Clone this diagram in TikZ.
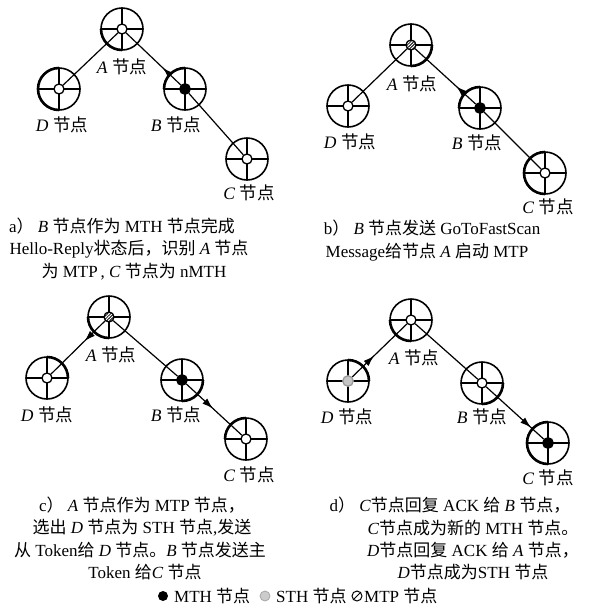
\documentclass[tikz,border=0pt]{standalone}
\usepackage{fontspec}
\setmainfont{Liberation Serif}
\newfontfamily\cjk{Noto Sans CJK SC}
\usetikzlibrary{arrows.meta,decorations.markings,patterns.meta,calc}
\newcommand\zh[1]{{\cjk #1}}
\tikzset{
  rimln/.style={line width=1.6pt},
  thinln/.style={line width=1.1pt},
  boldln/.style={line width=2.6pt},
  hub/.style={circle,draw,line width=1.3pt,fill=white,minimum size=10pt,inner sep=0pt},
  hubwhite/.style={},
  hubblack/.style={fill=black,minimum size=10.5pt},
  hubgray/.style={fill=gray!45,draw=gray!80,minimum size=10.5pt},
  hubhatch/.style={pattern={Lines[angle=45,distance=2.2pt,line width=0.8pt]}},
  edge/.style={line width=1.2pt},
  arrowmid/.style={postaction={decorate},decoration={markings,mark=at position #1 with {\arrow{Latex[length=11pt,width=7pt]}}}},
  lbl/.style={inner sep=0pt,font=\fontsize{17.5}{20}\selectfont},
  captxt/.style={inner sep=0pt,font=\fontsize{17}{20}\selectfont},
}
% #1 name, #2 centre, #3 hub style, #4 bold spokes, #5 bold arcs (start angle)
\newcommand\wheel[5]{%
  \draw[rimln] (#2) circle[radius=21];
  \foreach \a in {0,90,180,270} {\draw[thinln] ($(#2)+(\a:4.5)$) -- ($(#2)+(\a:21)$);}
  \foreach \a in {#4} {\draw[boldln] ($(#2)+(\a:4.5)$) -- ($(#2)+(\a:21)$);}
  \foreach \s in {#5} {\draw[boldln] ($(#2)+(\s:21)$) arc[start angle=\s,delta angle=90,radius=21];}
  \node[hub,#3] (#1) at (#2) {};
}
\begin{document}
\begin{tikzpicture}[x=1pt,y=-1pt]
\useasboundingbox (0,0) rectangle (597,611);
% ---------- panel a
\wheel{aA}{122,29}{hubwhite}{}{90}
\wheel{aD}{59,89}{hubwhite}{180,270}{90,180}
\wheel{aB}{185,89}{hubblack}{180}{180}
\wheel{aC}{247,159}{hubwhite}{180}{}
\draw[edge] (aA) -- (aD);
\draw[edge,arrowmid=0.33] (aB) -- (aA);
\draw[edge] (aB) -- (aC);
\node[lbl] (aAl) at (122,67) {\textit{A} \zh{节点}};
\node[lbl] (aDl) at (62,125) {\textit{D} \zh{节点}};
\node[lbl] (aBl) at (176,125) {\textit{B} \zh{节点}};
\node[lbl] (aCl) at (249,193) {\textit{C} \zh{节点}};
% ---------- panel b
\wheel{bA}{411,45}{hubhatch}{}{0}
\wheel{bD}{348,106}{hubwhite}{}{}
\wheel{bB}{480,108}{hubblack}{180}{180}
\wheel{bC}{545,173}{hubwhite}{180}{90,180}
\draw[edge] (bA) -- (bD);
\draw[edge,arrowmid=0.32] (bB) -- (bA);
\draw[edge] (bB) -- (bC);
\node[lbl] (bAl) at (412,84) {\textit{A} \zh{节点}};
\node[lbl] (bDl) at (350,142) {\textit{D} \zh{节点}};
\node[lbl] (bBl) at (477,143) {\textit{B} \zh{节点}};
\node[lbl] (bCl) at (548,207) {\textit{C} \zh{节点}};
% ---------- panel c
\wheel{cA}{109,317}{hubhatch}{180}{90}
\wheel{cD}{47,378}{hubwhite}{270,0}{270}
\wheel{cB}{182,380}{hubblack}{180}{0}
\wheel{cC}{246,439}{hubwhite}{270,180}{180}
\draw[edge,arrowmid=0.38] (cA) -- (cD);
\draw[edge] (cA) -- (cB);
\draw[edge,arrowmid=0.48] (cB) -- (cC);
\node[lbl] (cAl) at (111,355) {\textit{A} \zh{节点}};
\node[lbl] (cDl) at (47,415) {\textit{D} \zh{节点}};
\node[lbl] (cBl) at (176,415) {\textit{B} \zh{节点}};
\node[lbl] (cCl) at (249,475) {\textit{C} \zh{节点}};
% ---------- panel d
\wheel{dA}{411,320}{hubwhite}{180}{90}
\wheel{dD}{348,381}{hubgray}{270,0}{270}
\wheel{dB}{482,383}{hubwhite}{0}{0}
\wheel{dC}{548,443}{hubblack}{180,270}{90,180}
\draw[edge,arrowmid=0.40] (dD) -- (dA);
\draw[edge] (dA) -- (dB);
\draw[edge,arrowmid=0.78] (dB) -- (dC);
\node[lbl] (dAl) at (414,358) {\textit{A} \zh{节点}};
\node[lbl] (dDl) at (347,417) {\textit{D} \zh{节点}};
\node[lbl] (dBl) at (482,417) {\textit{B} \zh{节点}};
\node[lbl] (dCl) at (548,478) {\textit{C} \zh{节点}};
% ---------- captions
\node[captxt] (a1) at (122,226) {a\zh{）}\ \textit{B} \zh{节点作为} MTH \zh{节点完成}};
\node[captxt] (a2) at (129,249) {Hello-Reply\zh{状态后，识别} \textit{A} \zh{节点}};
\node[captxt] (a3) at (134,272) {\zh{为} MTP\,, \textit{C} \zh{节点为} nMTH};
\node[captxt] (b1) at (432,228) {b\zh{）}\ \textit{B} \zh{节点发送} GoToFastScan};
\node[captxt] (b2) at (427,252) {Message\zh{给节点} \textit{A} \zh{启动} MTP};
\node[captxt] (c1) at (142,505) {c\zh{）}\ \textit{A} \zh{节点作为} MTP \zh{节点，}};
\node[captxt] (c2) at (142,528) {\zh{选出} \textit{D} \zh{节点为} STH \zh{节点},\zh{发送}};
\node[captxt] (c3) at (140,550) {\zh{从} Token\zh{给} \textit{D} \zh{节点。}\textit{B} \zh{节点发送主}};
\node[captxt] (c4) at (145,572) {Token \zh{给}\textit{C} \zh{节点}};
\node[captxt] (d1) at (450,505) {d\zh{）}\ \textit{C}\zh{节点回复} ACK \zh{给} \textit{B} \zh{节点，}};
\node[captxt] (d2) at (473,528) {\textit{C}\zh{节点成为新的} MTH \zh{节点。}};
\node[captxt] (d3) at (473,550) {\textit{D}\zh{节点回复} ACK \zh{给} \textit{A} \zh{节点，}};
\node[captxt] (d4) at (473,572) {\textit{D}\zh{节点成为}STH \zh{节点}};
% ---------- legend
\node[circle,fill=black,minimum size=10pt,inner sep=0pt] (lg1) at (163,596) {};
\node[captxt,anchor=west] (lg1t) at (174,596) {MTH \zh{节点}};
\node[circle,fill=gray!40,draw=gray!70,line width=0.8pt,minimum size=10pt,inner sep=0pt] (lg2) at (265,596) {};
\node[captxt,anchor=west] (lg2t) at (276,596) {STH \zh{节点}};
\node[circle,draw,line width=1pt,minimum size=10pt,inner sep=0pt] (lg3) at (357,596) {};
\draw[line width=1pt] (lg3.south west) -- (lg3.north east);
\node[captxt,anchor=west] (lg3t) at (364,596) {MTP \zh{节点}};
\end{tikzpicture}
\end{document}
